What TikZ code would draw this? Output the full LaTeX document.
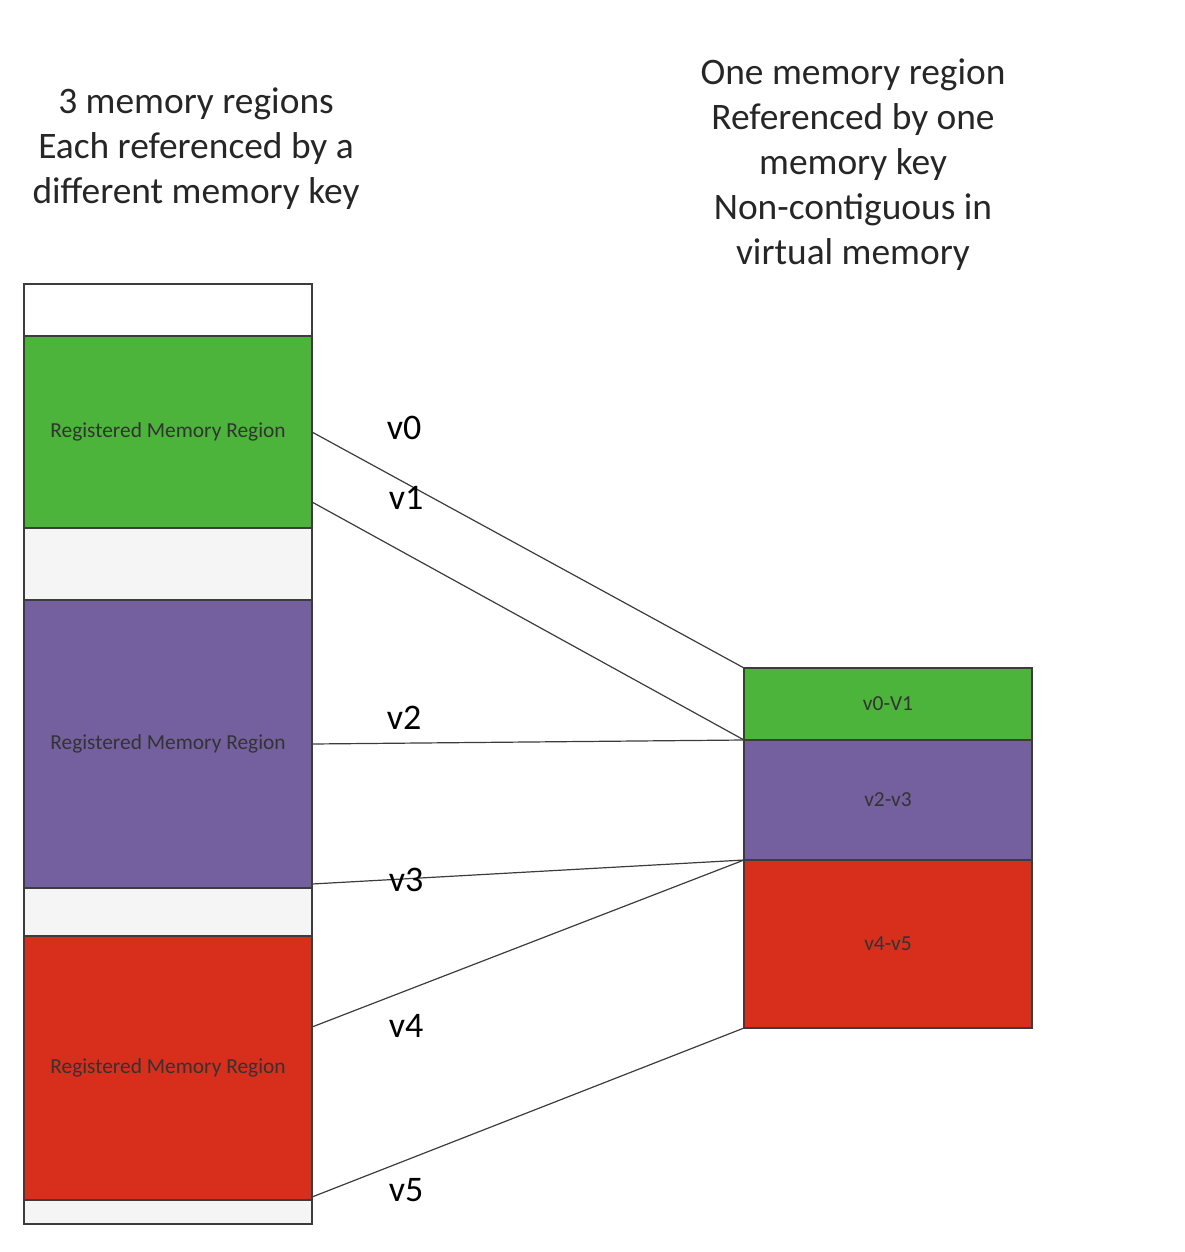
\documentclass[tikz,border=0pt]{standalone}
\usepackage{fontspec}
\setmainfont{Carlito}
\usetikzlibrary{positioning}

\definecolor{regreen}{RGB}{76,180,58}
\definecolor{repurple}{RGB}{116,96,158}
\definecolor{rered}{RGB}{216,46,28}
\definecolor{regap}{RGB}{245,245,245}
\definecolor{reline}{RGB}{60,60,60}

\tikzset{
  region/.style={draw=reline,line width=0.8pt,inner sep=0pt,outer sep=0pt,
    minimum width=144pt,font=\fontsize{10.7}{12}\selectfont,text=black!80},
  link/.style={draw=reline,line width=0.6pt},
  vlabel/.style={font=\fontsize{18}{20}\selectfont},
  title/.style={align=center,font=\fontsize{18.7}{22.5}\selectfont,text=black!85}
}

\begin{document}
\begin{tikzpicture}[x=0.5pt,y=-0.5pt]
\useasboundingbox (0,0) rectangle (1184,1252);

% left column
\node[region,fill=white,minimum height=26pt] (w0) at (168,310) {};
\node[region,fill=regreen,minimum height=96pt,below=0pt of w0] (g1) {Registered Memory Region};
\node[region,fill=regap,minimum height=36pt,below=0pt of g1] (w1) {};
\node[region,fill=repurple,minimum height=144pt,below=0pt of w1] (p1) {Registered Memory Region};
\node[region,fill=regap,minimum height=24pt,below=0pt of p1] (w2) {};
\node[region,fill=rered,minimum height=132pt,below=0pt of w2] (rd1) {Registered Memory Region};
\node[region,fill=regap,minimum height=12pt,below=0pt of rd1] (w3) {};

% right column
\node[region,fill=regreen,minimum height=36pt] (vg) at (888,704) {v0-V1};
\node[region,fill=repurple,minimum height=60pt,below=0pt of vg] (vp) {v2-v3};
\node[region,fill=rered,minimum height=84pt,below=0pt of vp] (vr) {v4-v5};

\coordinate (s1) at ([yshift=13pt]g1.south east);
\coordinate (s3) at ([yshift=2pt]p1.south east);
\coordinate (s4) at ([yshift=-45.5pt]rd1.north east);
\coordinate (s5) at ([yshift=1.5pt]rd1.south east);

\draw[link] (g1.east)--(vg.north west);
\draw[link] (s1)--(vg.south west);
\draw[link] (p1.east)--(vp.north west);
\draw[link] (s3)--(vp.south west);
\draw[link] (s4)--(vr.north west);
\draw[link] (s5)--(vr.south west);

% labels
\node[vlabel] (l0) at (404,428) {v0};
\node[vlabel] (l1) at (406,498) {v1};
\node[vlabel] (l2) at (404,718) {v2};
\node[vlabel] (l3) at (406,880) {v3};
\node[vlabel] (l4) at (406,1026) {v4};
\node[vlabel] (l5) at (406,1190) {v5};

\node[title] (t1) at (196,149) {3 memory regions\\Each referenced by a\\different memory key};
\node[title] (t2) at (853,165) {One memory region\\Referenced by one\\memory key\\Non-contiguous in\\virtual memory};
\end{tikzpicture}
\end{document}
